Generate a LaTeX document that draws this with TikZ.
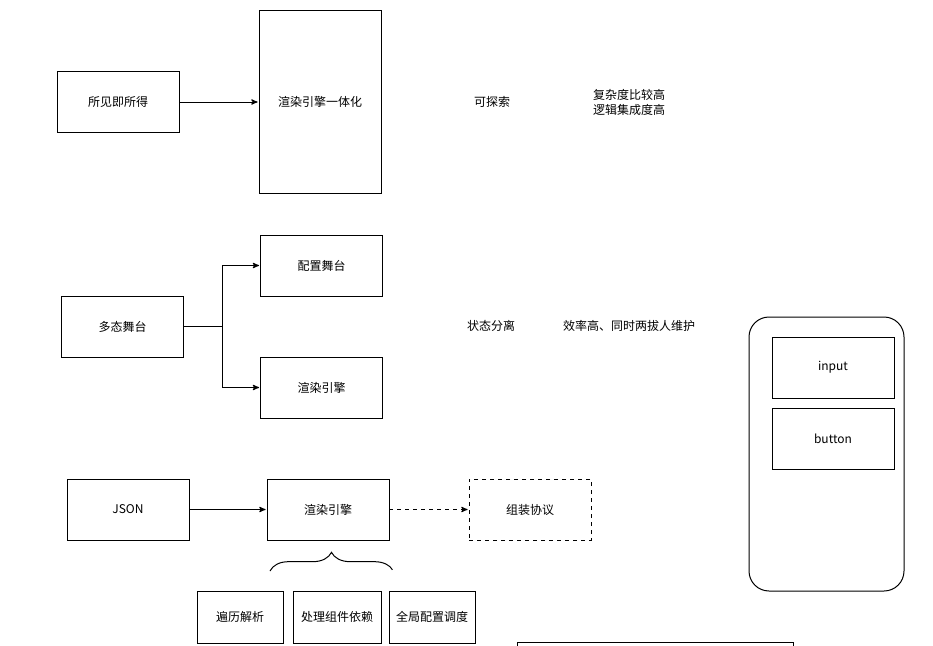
\documentclass[tikz,border=0pt]{standalone}
\usepackage{fontspec}
\setmainfont{Noto Sans CJK SC}
\usetikzlibrary{arrows,positioning,decorations.pathreplacing}

\begin{document}
\begin{tikzpicture}[->,>=stealth',shorten >=1pt,x=0.75pt,y=-0.75pt,
                    node distance=60pt,line width=0.75pt,
                    every node/.style={font=\fontsize{9pt}{11.25pt}\selectfont},
                    box/.style={draw,-,minimum width=91.5pt,minimum height=45.75pt,
                                inner sep=0pt,outer sep=0pt,align=center},
                    small/.style={box,minimum width=64.5pt,minimum height=39pt}]

  \useasboundingbox (0,0) rectangle (933,646);
  \clip (0,0) rectangle (933,646);

  % row 1
  \node[box]                        (wysiwyg) at (118,102) {所见即所得};
  \node[box,minimum height=137.25pt] (engineA) [right=of wysiwyg] {渲染引擎一体化};
  \node (explore) at (492,102) {可探索};
  \node[align=center] (complex) at (629,102) {复杂度比较高\\逻辑集成度高};

  \path (wysiwyg) edge (engineA);

  % row 2
  \node[box] (stage)   at (122.5,326.5) {多态舞台};
  \node[box] (config)  at (321.5,265.5) {配置舞台};
  \node[box] (engineB) at (321.5,387.5) {渲染引擎};
  \coordinate (fork) at (222,326.5);
  \node (split) at (491,326) {状态分离};
  \node (fast)  at (629,326) {效率高、同时两拔人维护};

  \draw (stage) -- (fork) |- (config);
  \draw (fork) |- (engineB);

  % phone
  \node[box,minimum width=116.25pt,minimum height=205.5pt,rounded corners=15pt]
        (phone) at (826.5,454) {};
  \node[box] (input)  at (833,367.5) {input};
  \node[box] (button) at (833,438.5) {button};

  % row 3
  \node[box]        (json)     at (128,509.5) {JSON};
  \node[box]        (engineC)  [right=58.5pt of json] {渲染引擎};
  \node[box,dashed] (assemble) [right=of engineC] {组装协议};

  \path (json) edge (engineC);
  \path (engineC) edge [dashed] (assemble);

  \draw[-,decorate,decoration={brace,amplitude=14pt}] (270,571) -- (393,571);

  \node[small]                     (traverse) at (240,617) {遍历解析};
  \node[small,minimum width=66pt]  (deps)  [right=7.5pt of traverse] {处理组件依赖};
  \node[small]                     (global) [right=6pt of deps] {全局配置调度};

  \node[box,minimum width=207pt,minimum height=57pt] (panel) at (655,680) {};
\end{tikzpicture}
\end{document}
